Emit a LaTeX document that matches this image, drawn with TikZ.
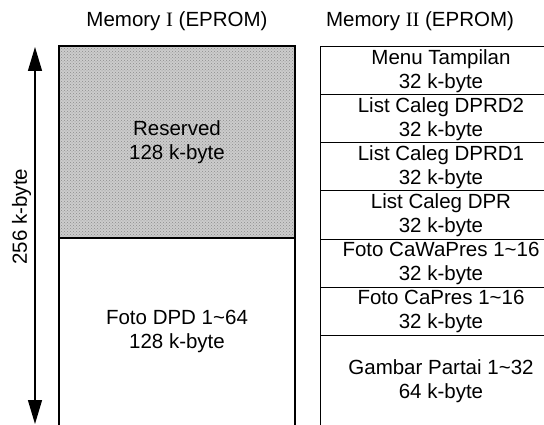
\documentclass[tikz,border=0pt]{standalone}
\usepackage{fontspec}
\setmainfont{Liberation Sans}
\newfontfamily\romanfont{Liberation Serif}
\usepackage{tikz}
\usetikzlibrary{arrows.meta,positioning,patterns}

\begin{document}
\begin{tikzpicture}[
  x=1pt,y=-1pt,
  font=\fontsize{20.5}{24}\selectfont,
  row/.style={draw,line width=1pt,align=center,inner sep=0pt,outer sep=0pt,minimum width=242pt,minimum height=48pt},
  block/.style={align=center,inner sep=0pt,outer sep=0pt,minimum width=236pt},
  title/.style={anchor=base},
  arrow/.style={{Triangle[length=24pt,width=14pt]}-{Triangle[length=24pt,width=14pt]},line width=1.3pt}
]
\useasboundingbox (0,0) rectangle (544,425);
\clip (0,0) rectangle (544,425);
\fill[white] (0,0) rectangle (544,425);

% titles
\node[title] (title1) at (177,27) {Memory {\romanfont I} (EPROM)};
\node[title] (title2) at (420,27) {Memory {\romanfont II} (EPROM)};

% Memory I
\node[block,draw,line width=1.2pt,minimum height=192pt,preaction={fill=gray!40},pattern=crosshatch dots,pattern color=gray!90] (reserved) at (177,142) {Reserved\\128 k-byte};
\node[block,minimum height=187pt,below=0pt of reserved] (fotodpd) {Foto DPD 1\textasciitilde 64\\128 k-byte};
\draw[line width=1.2pt] (reserved.south west) -- ++(0,200);
\draw[line width=1.2pt] (reserved.south east) -- ++(0,200);

% Memory II
\node[row] (menu) at (441,71) {Menu Tampilan\\32 k-byte};
\node[row,below=0pt of menu] (dprdtwo) {List Caleg DPRD2\\32 k-byte};
\node[row,below=0pt of dprdtwo] (dprdone) {List Caleg DPRD1\\32 k-byte};
\node[row,below=0pt of dprdone] (dpr) {List Caleg DPR\\32 k-byte};
\node[row,below=0pt of dpr] (cawapres) {Foto CaWaPres 1\textasciitilde 16\\32 k-byte};
\node[row,below=0pt of cawapres] (capres) {Foto CaPres 1\textasciitilde 16\\32 k-byte};
\node[row,draw=none,minimum height=92pt,below=0pt of capres] (partai) {Gambar Partai 1\textasciitilde 32\\64 k-byte};
\draw[line width=1pt] (partai.north west) -- ++(0,110);

% size arrow
\coordinate (top) at (35,47);
\coordinate (bottom) at (35,424);
\draw[arrow] (bottom) -- node[pos=0.55,above,rotate=90] (size) {256 k-byte} (top);
\end{tikzpicture}
\end{document}
